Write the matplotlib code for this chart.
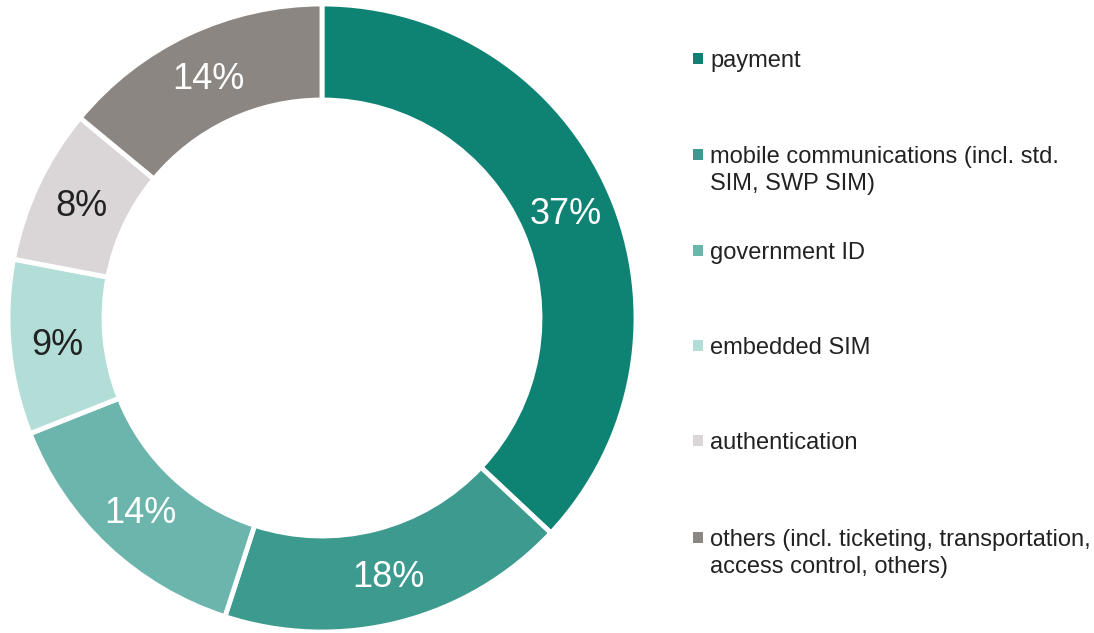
import numpy as np
import matplotlib.pyplot as plt
from matplotlib.patches import Rectangle

plt.rcParams['font.family'] = ['Liberation Sans', 'DejaVu Sans']

categories = [
    "payment",
    "mobile communications (incl. std.\nSIM, SWP SIM)",
    "government ID",
    "embedded SIM",
    "authentication",
    "others (incl. ticketing, transportation,\naccess control, others)",
]
shares = [37, 18, 14, 9, 8, 14]
colors = ["#0e8374", "#3d9a8e", "#6bb5ac", "#b3ded8", "#dad5d7", "#8c8682"]
label_colors = ["white", "white", "white", "#222222", "#222222", "white"]

W, H = 1094, 633
fig = plt.figure(figsize=(W / 100, H / 100), dpi=100)
ax = fig.add_axes([0, 0, 1, 1])

cx, cy, r_out, r_in = 322, H - 318, 314, 218
wedges, _ = ax.pie(
    shares, colors=colors, startangle=90, counterclock=False,
    center=(cx, cy), radius=r_out, frame=True,
    wedgeprops=dict(width=r_out - r_in, edgecolor='white', linewidth=3.5),
)
ax.set_xlim(0, W)
ax.set_ylim(0, H)
ax.set_aspect('equal')
ax.axis('off')

# percentage labels at the middle of each ring segment
r_mid = (r_out + r_in) / 2
for w, v, tc in zip(wedges, shares, label_colors):
    ang = np.deg2rad((w.theta1 + w.theta2) / 2)
    ax.text(cx + r_mid * np.cos(ang), cy + r_mid * np.sin(ang) - 2, f"{v}%",
            ha='center', va='center', fontsize=26, color=tc)

# legend drawn as a column of squares and labels (first-line baselines)
baselines = [67, 163, 259, 354, 449, 546]
line_step = 27
for name, col, y in zip(categories, colors, baselines):
    yy = H - y
    ax.add_patch(Rectangle((693, yy + 3), 10, 11, facecolor=col, edgecolor='none'))
    lines = name.split("\n")
    for i, line in enumerate(lines):
        ax.text(710, yy - i * line_step, line, ha='left', va='baseline',
                fontsize=17, color='#222222')

fig.savefig('out.png', dpi=100)
